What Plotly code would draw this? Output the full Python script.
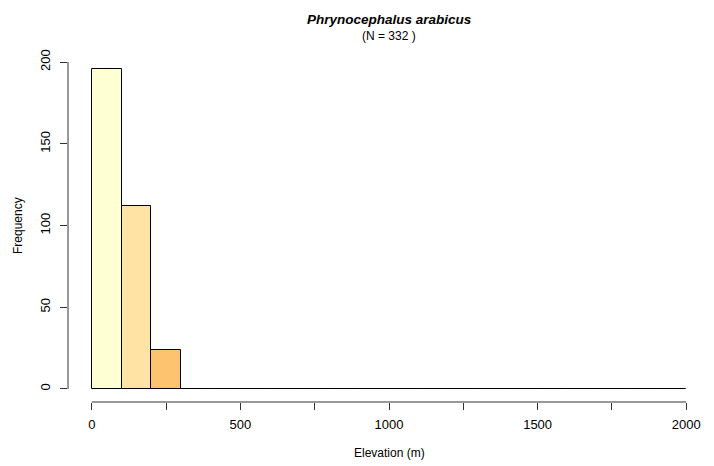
import plotly.graph_objects as go

# histogram of elevation, bins of 100 m from 0 to 2000
bin_edges = list(range(0, 2001, 100))
counts = [196, 112, 24, 0, 0, 0, 0, 0, 0, 0, 0, 0, 0, 0, 0, 0, 0, 0, 0, 0]
bin_colors = ["#FFFFD4", "#FEE3A4", "#FEC36E"] + ["#FDA54F"] * 17
x_ticks = [0, 250, 500, 750, 1000, 1250, 1500, 1750, 2000]
x_ticklabels = ["0", "", "500", "", "1000", "", "1500", "", "2000"]
y_ticks = [0, 50, 100, 150, 200]
species = "Phrynocephalus arabicus"
n_total = 332

centers = [(a + b) / 2 for a, b in zip(bin_edges[:-1], bin_edges[1:])]
widths = [b - a for a, b in zip(bin_edges[:-1], bin_edges[1:])]

W, H = 714, 466
ML, MR, MT, MB = 68, 4, 49, 64
FONT = "Liberation Sans, Arial, Helvetica, sans-serif"

fig = go.Figure()
fig.add_trace(go.Bar(
    x=centers, y=counts, width=widths,
    marker=dict(color=bin_colors, line=dict(color="black", width=1)),
    showlegend=False, hoverinfo="x+y",
))

# R-style detached axis lines, spanning first to last tick
fig.add_shape(type="line", xref="x", yref="paper", x0=x_ticks[0], x1=x_ticks[-1], y0=0, y1=0,
              line=dict(color="#333333", width=1))
fig.add_shape(type="line", xref="paper", yref="y", x0=0, x1=0, y0=y_ticks[0], y1=y_ticks[-1],
              line=dict(color="#333333", width=1))

# text placed by pixel position
def px(p):
    return (p - ML) / (W - ML - MR)

def py(p):
    return (H - MB - p) / (H - MT - MB)

fig.add_annotation(text=f"<b><i>{species}</i></b>", x=px(390), xref="paper", y=py(20), yref="paper",
                   showarrow=False, font=dict(size=13.5), yanchor="middle")
fig.add_annotation(text=f"(N = {n_total} )", x=px(389), xref="paper", y=py(36), yref="paper",
                   showarrow=False, font=dict(size=12), yanchor="middle")
fig.add_annotation(text="Elevation (m)", x=px(389), xref="paper", y=py(453), yref="paper",
                   showarrow=False, font=dict(size=12), yanchor="middle")
fig.add_annotation(text="Frequency", x=px(18), xref="paper", y=py(226), yref="paper",
                   showarrow=False, font=dict(size=12), textangle=-90, xanchor="center")

fig.update_layout(
    width=W, height=H,
    margin=dict(l=ML, r=MR, t=MT, b=MB),
    paper_bgcolor="white", plot_bgcolor="white",
    bargap=0,
    font=dict(family=FONT, size=12, color="black"),
)

fig.update_xaxes(range=[-80, 2080], tickvals=x_ticks, ticktext=x_ticklabels, ticks="outside", ticklen=7,
                 tickcolor="#333333", showgrid=False, zeroline=False, showline=False,
                 tickfont=dict(size=13), ticklabelstandoff=3)
fig.update_yaxes(range=[-8, 208], tickvals=y_ticks, ticks="outside", ticklen=7,
                 tickcolor="#333333", showgrid=False, zeroline=False, showline=False,
                 tickangle=-90, tickfont=dict(size=13), ticklabelstandoff=5)

fig.write_html("out.html", config={"displayModeBar": False},
               post_script="document.body.style.margin='0';")
